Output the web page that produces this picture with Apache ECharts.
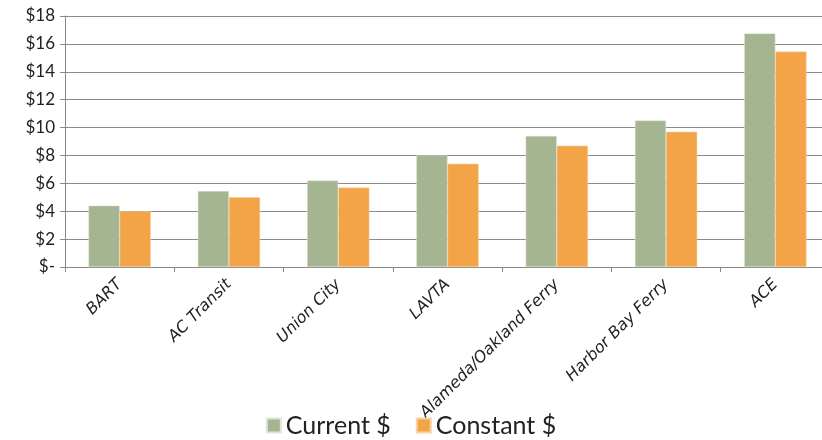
<!DOCTYPE html>
<html>
<head>
<meta charset="utf-8">
<script src="https://cdn.jsdelivr.net/npm/echarts@6/dist/echarts.min.js"></script>
<style>
  html, body { margin: 0; padding: 0; background: #fff; }
  #chart { width: 822px; height: 440px; }
</style>
</head>
<body>
<div id="chart"></div>
<script>
// 数据
const categories = ['BART', 'AC Transit', 'Union City', 'LAVTA', 'Alameda/Oakland Ferry', 'Harbor Bay Ferry', 'ACE'];
const currentValues = [4.4, 5.45, 6.2, 8.0, 9.4, 10.5, 16.75];
const constantValues = [4.0, 5.0, 5.7, 7.4, 8.7, 9.7, 15.45];
const seriesNames = ['Current $', 'Constant $'];

const fontFamily = '"DejaVu Sans", sans-serif';

const chart = echarts.init(document.getElementById('chart'));

chart.setOption({
    animation: false,
    color: ['#a5b592', '#f3a447'],
    grid: {
        left: 65,
        top: 16,
        width: 765,
        bottom: 173,
        containLabel: false,
        outerBoundsMode: 'none'
    },
    legend: {
        data: seriesNames,
        top: 408,
        left: 'center',
        icon: 'rect',
        itemWidth: 14,
        itemHeight: 14,
        itemGap: 25,
        textStyle: {
            fontFamily: 'Lato, sans-serif',
            fontSize: 25,
            color: '#222'
        }
    },
    xAxis: {
        type: 'category',
        data: categories,
        axisLine: { lineStyle: { color: '#888' } },
        axisTick: { show: true, length: 5, lineStyle: { color: '#888' } },
        axisLabel: {
            rotate: 45,
            interval: 0,
            margin: 15,
            fontStyle: 'italic',
            fontFamily: fontFamily,
            fontSize: 16,
            color: '#222'
        }
    },
    yAxis: {
        type: 'value',
        min: 0,
        max: 18,
        interval: 2,
        axisLine: { show: true, lineStyle: { color: '#888' } },
        axisTick: { show: true, length: 5, lineStyle: { color: '#888' } },
        splitLine: { lineStyle: { color: '#8c8c8c', width: 1 } },
        axisLabel: {
            fontFamily: 'Lato, sans-serif',
            fontSize: 17,
            color: '#222',
            margin: 10,
            formatter: function (v) {
                return v === 0 ? '$-' : '$' + v;
            }
        }
    },
    series: [
        {
            name: seriesNames[0],
            type: 'bar',
            data: currentValues,
            barGap: '0%',
            barCategoryGap: '43%',
            itemStyle: { borderColor: '#dfe5d8', borderWidth: 0.5 }
        },
        {
            name: seriesNames[1],
            type: 'bar',
            data: constantValues,
            itemStyle: { borderColor: '#f8d3a6', borderWidth: 0.5 }
        }
    ]
});
</script>
</body>
</html>
